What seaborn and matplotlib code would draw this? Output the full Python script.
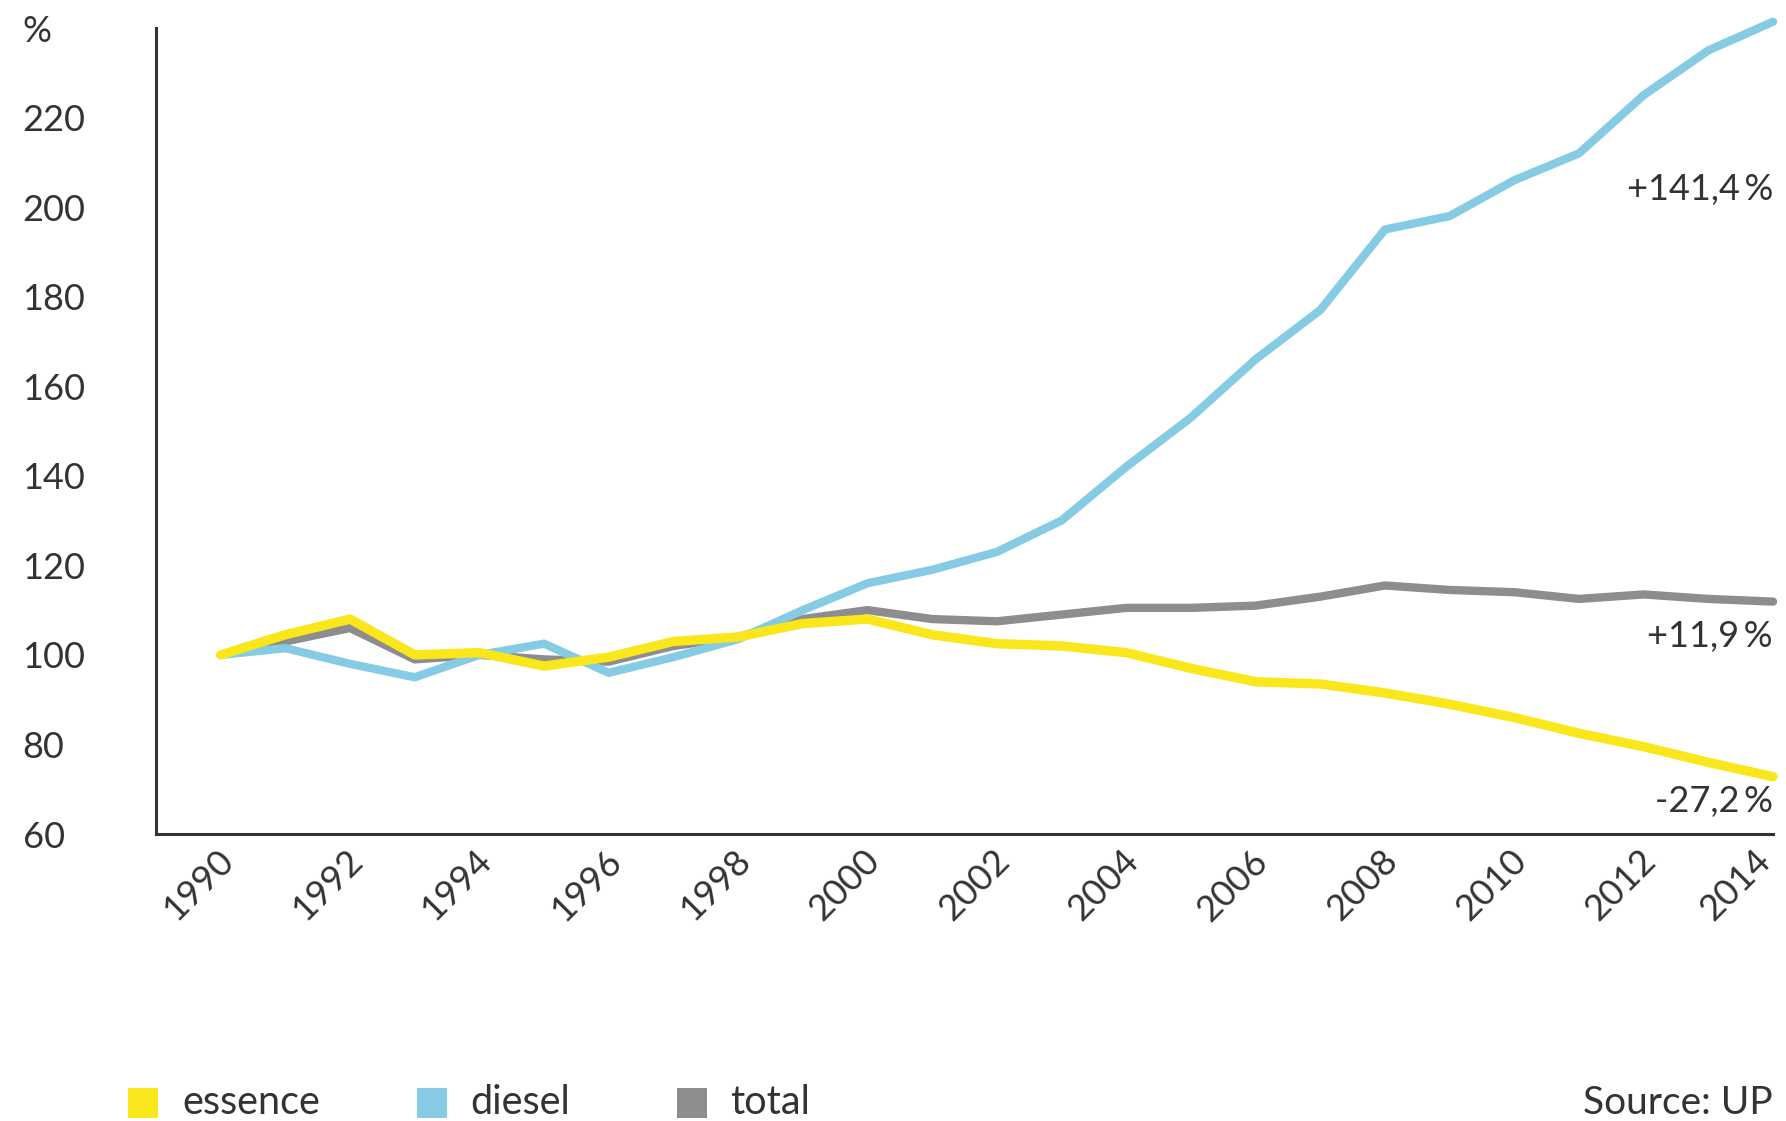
import matplotlib
matplotlib.use("Agg")
import matplotlib.pyplot as plt
from matplotlib.patches import Rectangle
from matplotlib.transforms import ScaledTranslation
import numpy as np
import pandas as pd
import seaborn as sns

# Index of fuel sales, 1990 = 100
years = list(range(1990, 2015))
essence = [100, 104.5, 108, 100, 100.5, 97.5, 99.5, 103, 104, 107, 108, 104.5, 102.5,
           102, 100.5, 97, 94, 93.5, 91.5, 89, 86, 82.5, 79.5, 76, 72.8]
diesel = [100, 101.5, 98, 95, 100, 102.5, 96, 99.5, 103.5, 110, 116, 119, 123,
          130, 142, 153, 166, 177, 195, 198, 206, 212, 225, 235, 241.4]
total = [100, 103, 106, 99, 100, 99, 98.5, 102, 104, 108, 110, 108, 107.5,
         109, 110.5, 110.5, 111, 113, 115.5, 114.5, 114, 112.5, 113.5, 112.5, 111.9]

series_names = ["essence", "diesel", "total"]
colors = {"essence": "#F9E71B", "diesel": "#85CBE4", "total": "#8D8D8F"}
y_ticks = list(range(60, 241, 20))
y_labels = [str(v) for v in y_ticks[:-1]] + ["%"]
x_ticks = list(range(1989, 2015))
x_labels = [str(y) if y % 2 == 0 else "" for y in x_ticks]

df = pd.DataFrame({"année": years * 3,
                   "valeur": essence + diesel + total,
                   "série": ["essence"] * 25 + ["diesel"] * 25 + ["total"] * 25})

sns.set_theme(style="white")
plt.rcParams["font.family"] = ["Lato", "DejaVu Sans"]
ink = "#333333"

W, H = 1786, 1121
fig = plt.figure(figsize=(W / 100, H / 100), dpi=100)
ax = fig.add_axes([156 / W, 1 - 834 / H, (1773 - 156) / W, (834 - 28) / H])

# draw order: total underneath, essence on top
widths = {"total": 6.0, "diesel": 6.0, "essence": 6.8}
for name in ["total", "diesel", "essence"]:
    sns.lineplot(data=df[df["série"] == name], x="année", y="valeur", ax=ax,
                 color=colors[name], linewidth=widths[name], legend=False,
                 solid_capstyle="round", solid_joinstyle="round", clip_on=False)

ax.set_xlim(1989, 2014)
ax.set_ylim(60, 240)
ax.set_xlabel("")
ax.set_ylabel("")
for side in ["top", "right"]:
    ax.spines[side].set_visible(False)
for side in ["left", "bottom"]:
    ax.spines[side].set_linewidth(2.2)
    ax.spines[side].set_color(ink)

ax.set_yticks(y_ticks)
ax.set_yticklabels(y_labels, ha="left", fontsize=26, color=ink)
ax.set_xticks(x_ticks)
ax.set_xticklabels(x_labels, rotation=45, ha="right", va="center",
                   rotation_mode="anchor", fontsize=26, color=ink)
ax.tick_params(axis="y", direction="out", length=21.6, width=2.2, color=ink, pad=74.5)
ax.tick_params(axis="x", direction="out", length=21.6, width=2.2, color=ink, pad=12)
xlabels = ax.get_xticklabels()
for i, lab in enumerate(xlabels):
    # the last label is nudged left so it stays inside the canvas
    dx = 0.07 if i < len(xlabels) - 1 else -0.08
    lab.set_transform(lab.get_transform()
                      + ScaledTranslation(dx, 0.25, fig.dpi_scale_trans))

# end-of-period change labels
last = {"diesel": diesel[-1], "total": total[-1], "essence": essence[-1]}
label_y = {"diesel": 204, "total": 104, "essence": 67.3}
for name in ["diesel", "total", "essence"]:
    change = last[name] - 100
    txt = f"{change:+.1f}\u2009%".replace(".", ",")
    ax.text(years[-1], label_y[name], txt, ha="right", va="center",
            fontsize=26, color=ink, family=["Lato", "DejaVu Sans"])

# legend row along the bottom edge
square_x = {"essence": 128, "diesel": 417, "total": 677}
text_x = {"essence": 182, "diesel": 470, "total": 730}
for name in series_names:
    fig.patches.append(Rectangle((square_x[name] / W, 1 - 1118 / H), 30 / W, 30 / H,
                                 transform=fig.transFigure, facecolor=colors[name],
                                 edgecolor="none"))
    fig.text(text_x[name] / W, 1 - 1114 / H, name, ha="left", va="baseline",
             fontsize=28.5, color=ink)
fig.text(1773 / W, 1 - 1114 / H, "Source: UP", ha="right", va="baseline",
         fontsize=28, color=ink)

fig.savefig("out.png", dpi=100, facecolor="white")
